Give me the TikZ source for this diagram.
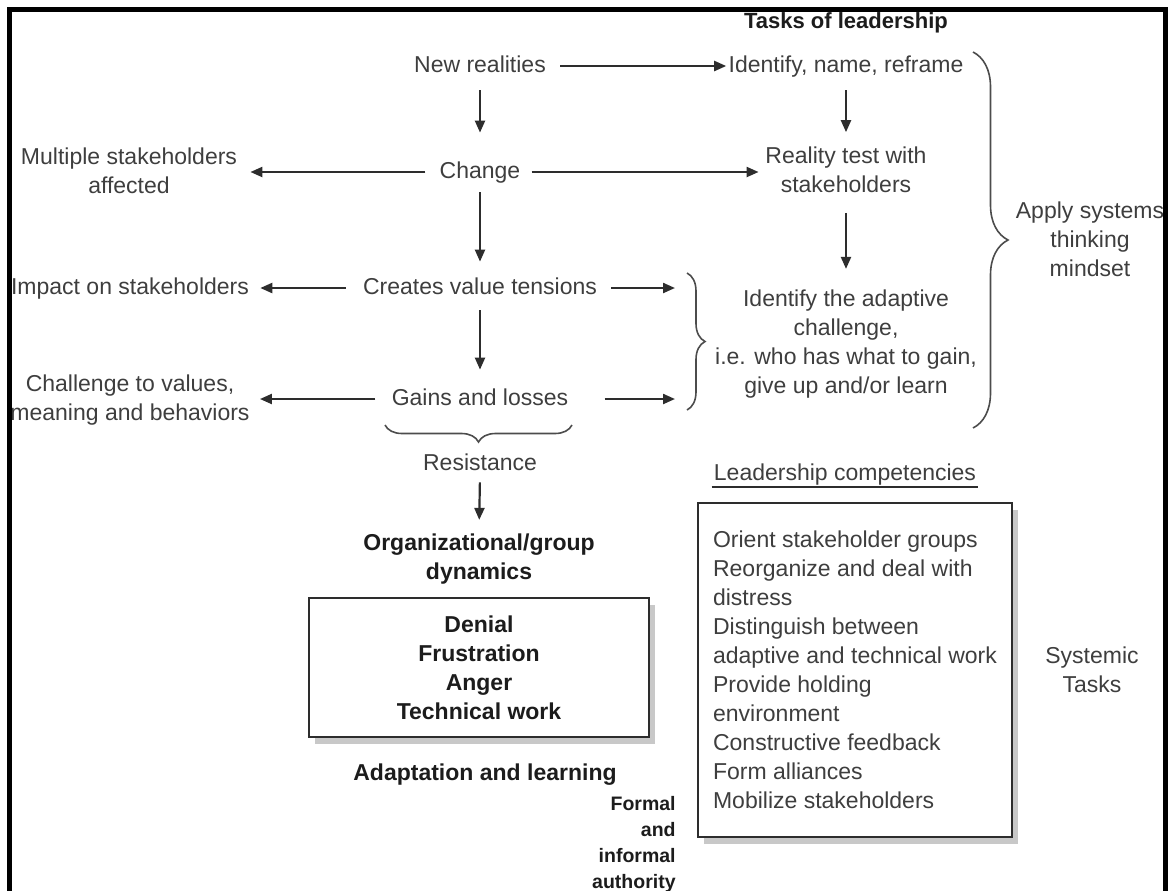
\documentclass[tikz,border=0pt]{standalone}
\usepackage{fontspec}
\setmainfont{Liberation Sans}
\usetikzlibrary{arrows.meta,decorations.pathreplacing,shadows}
\definecolor{textgray}{RGB}{62,62,62}
\definecolor{inkdark}{RGB}{28,28,28}
\definecolor{linegray}{RGB}{45,45,45}
\definecolor{shadowgray}{RGB}{200,200,200}
\newcommand{\diagfont}{\fontsize{11.5}{14.5}\selectfont}

\begin{document}
\begin{tikzpicture}[x=0.5pt, y=-0.5pt,
    every node/.style={font=\diagfont, text=textgray, inner sep=0pt},
    oneline/.style={text height=8.5pt, text depth=2.5pt},
    stack/.style={align=center},
    strong/.style={font=\diagfont\bfseries, text=inkdark},
    flow/.style={draw=linegray, line width=1.1pt, -{Triangle[length=6pt,width=5pt]}},
    curly/.style={draw=linegray!85, line width=0.8pt, decorate, decoration={brace, amplitude=#1}},
    panel/.style={draw=linegray, line width=1.2pt, fill=white,
      drop shadow={shadow xshift=3pt, shadow yshift=-3.5pt, fill=shadowgray, opacity=1}}]
\useasboundingbox (0,0) rectangle (1168,890);

% tasks of leadership (right column)
\node[strong, oneline, font=\fontsize{11}{14}\selectfont\bfseries] (title) at (846,22) {Tasks of leadership};
\node[oneline] (ident) at (846,66) {Identify, name, reframe};
\node[stack] (reality) at (846,169.5) {Reality test with\\stakeholders};
\node[stack] (adaptive) at (846,344.5) {Identify the adaptive\\challenge,\\i.e. who has what to gain,\\give up and/or learn};
\node[stack] (apply) at (1090,239) {Apply systems\\thinking\\mindset};

% chain of change (middle column)
\node[oneline] (newr) at (480,66) {New realities};
\node[oneline] (change) at (480,172) {Change};
\node[oneline] (creates) at (480,288) {Creates value tensions};
\node[oneline] (gains) at (480,399) {Gains and losses};
\node[oneline] (resist) at (480,464) {Resistance};
\node[strong, stack] (orgdyn) at (479,559.5) {Organizational/group\\dynamics};
\node[panel, strong, stack, minimum width=170pt, minimum height=69.5pt] (reactions) at (479,667.5)
  {Denial\\Frustration\\Anger\\Technical work};
\node[strong, oneline] (adapt) at (485,774) {Adaptation and learning};
\node[align=right, anchor=east, text=inkdark, font=\fontsize{9.75}{13}\selectfont\bfseries] (formal) at (676,844)
  {Formal\\and\\informal\\authority};

% effects on stakeholders (left column)
\node[stack] (multi) at (129,170.5) {Multiple stakeholders\\affected};
\node[oneline] (impact) at (130,288) {Impact on stakeholders};
\node[stack] (challenge) at (130,400) {Challenge to values,\\meaning and behaviors};

% competencies
\node[oneline, inner xsep=1pt, inner ysep=1pt] (lcomp) at (845,474) {Leadership competencies};
\draw[linegray, line width=1pt] (lcomp.south west) -- (lcomp.south east);
\node[panel, align=left, minimum width=157pt, minimum height=167pt] (skills) at (855,670)
  {Orient stakeholder groups\\Reorganize and deal with\\distress\\Distinguish between\\adaptive and technical work\\Provide holding\\environment\\Constructive feedback\\Form alliances\\Mobilize stakeholders};
\node[stack] (systemic) at (1092,669.5) {Systemic\\Tasks};

% braces
\coordinate (tbrace) at (687,273);
\coordinate (bbrace) at (687,410);
\coordinate (gright) at (572,425);
\coordinate (gleft) at (385,425);
\coordinate (atop) at (973,52);
\coordinate (abot) at (973,428);
\draw[curly=9pt] (tbrace) -- (bbrace);
\draw[curly=8.5pt] (gright) -- (gleft);
\draw[curly=17.5pt] (atop) -- (abot);

% arrows
\draw[flow, shorten <=7pt, shorten >=1pt] (newr.east) -- (ident.west);
\draw[flow, shorten <=6.5pt, shorten >=14pt] (newr.south) -- (change.north);
\draw[flow, shorten <=7pt, shorten >=6.5pt] (change.west) -- (change.west -| multi.east);
\draw[flow, shorten <=5.5pt, shorten >=3.25pt] (change.east) -- (change.east -| reality.west);
\draw[flow, shorten <=6.5pt, shorten >=7pt] (ident.south) -- (reality.north);
\draw[flow, shorten <=10pt, shorten >=10.5pt] (reality.south) -- (adaptive.north);
\draw[flow, shorten <=4.5pt, shorten >=7.5pt] (change.south) -- (creates.north);
\draw[flow, shorten <=8.5pt, shorten >=5.5pt] (creates.west) -- (creates.west -| impact.east);
\draw[flow, shorten <=7pt, shorten >=6pt] (creates.east) -- (creates.east -| tbrace);
\draw[flow, shorten <=5.5pt, shorten >=9pt] (creates.south) -- (gains.north);
\draw[flow, shorten <=8pt, shorten >=5pt] (gains.west) -- (gains.west -| challenge.east);
\draw[flow, shorten <=18pt, shorten >=6pt] (gains.east) -- (gains.east -| tbrace);
\draw[flow, shorten <=3.5pt, shorten >=7pt] (resist.south) -- (orgdyn.north);

% outer frame
\draw[black, line width=2.5pt] (9.5,9.5) rectangle (1165,910);
\end{tikzpicture}
\end{document}
